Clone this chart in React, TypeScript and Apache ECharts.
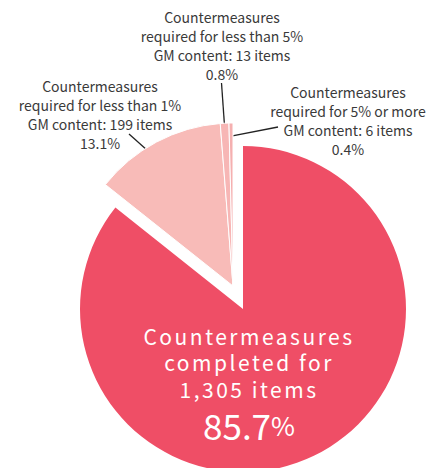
import React, { useEffect, useRef } from "react";
import * as echarts from "echarts";

// ---- Data ----
const categories = [
  "Countermeasures completed",
  "Countermeasures required for less than 1% GM content",
  "Countermeasures required for less than 5% GM content",
  "Countermeasures required for 5% or more GM content",
];
const itemCounts = [1305, 199, 13, 6];
const shareLabels = ["85.7%", "13.1%", "0.8%", "0.4%"];
const labelHeads = [
  "Countermeasures\ncompleted for",
  "Countermeasures\nrequired for less than 1%\nGM content:",
  "Countermeasures\nrequired for less than 5%\nGM content:",
  "Countermeasures\nrequired for 5% or more\nGM content:",
];

// ---- Styles / layout ----
const FONT = "'Noto Sans CJK JP', 'Noto Sans', sans-serif";
const sliceColors = ["#ef4e66", "#f8bbb8", "#f7b6b5", "#f5b0b0"];
const MAIN_CENTER = [243, 309];
const SMALL_CENTER = [233, 286];
const RADIUS = 163;
// label centres
const labelSpots: Record<number, [number, number]> = {
  0: [249, 385],
  1: [100, 114],
  2: [222, 45],
  3: [348, 120],
};
// where each leader line leaves its label
const leaderStarts: Record<number, [number, number]> = {
  1: [129, 134],
  2: [221.5, 83],
  3: [278, 127],
};
// where each leader line ends inside its slice: [fraction of slice angle, fraction of radius]
const leaderAnchors: Record<number, [number, number]> = {
  1: [0.43, 0.93],
  2: [0.5, 0.915],
  3: [0.5, 0.92],
};

function fmtCount(n: number) {
  return n.toLocaleString("en-US");
}

function sliceAnchor(i: number): [number, number] {
  const total = itemCounts.reduce((a, b) => a + b, 0);
  let before = 0;
  for (let k = 0; k < i; k++) before += itemCounts[k];
  const [fa, fr] = leaderAnchors[i];
  const ang = ((before + itemCounts[i] * fa) / total) * Math.PI * 2;
  const r = RADIUS * fr;
  return [SMALL_CENTER[0] + r * Math.sin(ang), SMALL_CENTER[1] - r * Math.cos(ang)];
}

export default function App() {
  const ref = useRef<HTMLDivElement>(null);
  useEffect(() => {
    if (!ref.current) return;
    const chart = echarts.init(ref.current, undefined, { renderer: "svg" });
    const option = {
      animation: false,
      backgroundColor: "#ffffff",
      series: [
        {
          type: "pie",
          silent: true,
          center: MAIN_CENTER,
          radius: RADIUS,
          startAngle: 90,
          clockwise: true,
          avoidLabelOverlap: false,
          itemStyle: { borderWidth: 0 },
          emphasis: { disabled: true },
          data: itemCounts.map((v, i) => ({
            value: v,
            name: categories[i],
            itemStyle: { color: i === 0 ? sliceColors[0] : "transparent" },
            label: { show: i === 0 },
            labelLine: { show: false },
          })),
          label: {
            position: "inside",
            formatter: (p: any) => {
              const i = p.dataIndex;
              const head = labelHeads[i]
                .split("\n")
                .map((l) => `{a|${l}}`)
                .join("\n");
              const num = shareLabels[i].replace("%", "");
              return `${head}\n{a|${fmtCount(itemCounts[i])} items}\n{b|${num}}{c|%}`;
            },
            align: "center",
            rich: {
              a: {
                fontFamily: FONT,
                fontSize: 21,
                lineHeight: 26.5,
                color: "#fffffe",
                align: "center",
              },
              b: {
                fontFamily: FONT,
                fontSize: 35,
                lineHeight: 46,
                color: "#ffffff",
              },
              c: {
                fontFamily: FONT,
                fontSize: 26,
                lineHeight: 46,
                color: "#ffffff",
              },
            },
          },
          labelLayout: (p: any) => {
            const s = labelSpots[p.dataIndex];
            return { x: s[0], y: s[1], align: "center", verticalAlign: "middle" };
          },
        },
        {
          type: "pie",
          silent: true,
          center: SMALL_CENTER,
          radius: RADIUS,
          startAngle: 90,
          clockwise: true,
          avoidLabelOverlap: false,
          emphasis: { disabled: true },
          data: itemCounts.map((v, i) => ({
            value: v,
            name: categories[i],
            itemStyle:
              i === 0
                ? { color: "transparent", borderWidth: 0 }
                : { color: sliceColors[i], borderColor: "#ffffff", borderWidth: 1 },
            label: { show: i !== 0 },
            labelLine: { show: i !== 0 },
          })),
          label: {
            position: "outside",
            fontFamily: FONT,
            fontSize: 14,
            lineHeight: 19,
            color: "#3a3a3a",
            align: "center",
            formatter: (p: any) => {
              const i = p.dataIndex;
              return `${labelHeads[i]} ${fmtCount(itemCounts[i])} items\n${shareLabels[i]}`;
            },
          },
          labelLine: {
            length: 6,
            length2: 0,
            lineStyle: { color: "#222222", width: 1.3 },
          },
          labelLayout: (p: any) => {
            const i = p.dataIndex;
            const s = labelSpots[i];
            const out: any = { x: s[0], y: s[1], align: "center", verticalAlign: "middle" };
            if (leaderStarts[i]) {
              const st = leaderStarts[i];
              out.labelLinePoints = [st, st, sliceAnchor(i)];
            }
            return out;
          },
        },
      ],
    };
    chart.setOption(option as any);
    return () => chart.dispose();
  }, []);
  return (
    <>
      <style>{`.pie-chart text[fill="#fffffe"]{letter-spacing:2.5px;}`}</style>
      <div
        ref={ref}
        className="pie-chart"
        style={{ position: "absolute", left: 0, top: 0, width: 441, height: 468 }}
      />
    </>
  );
}
